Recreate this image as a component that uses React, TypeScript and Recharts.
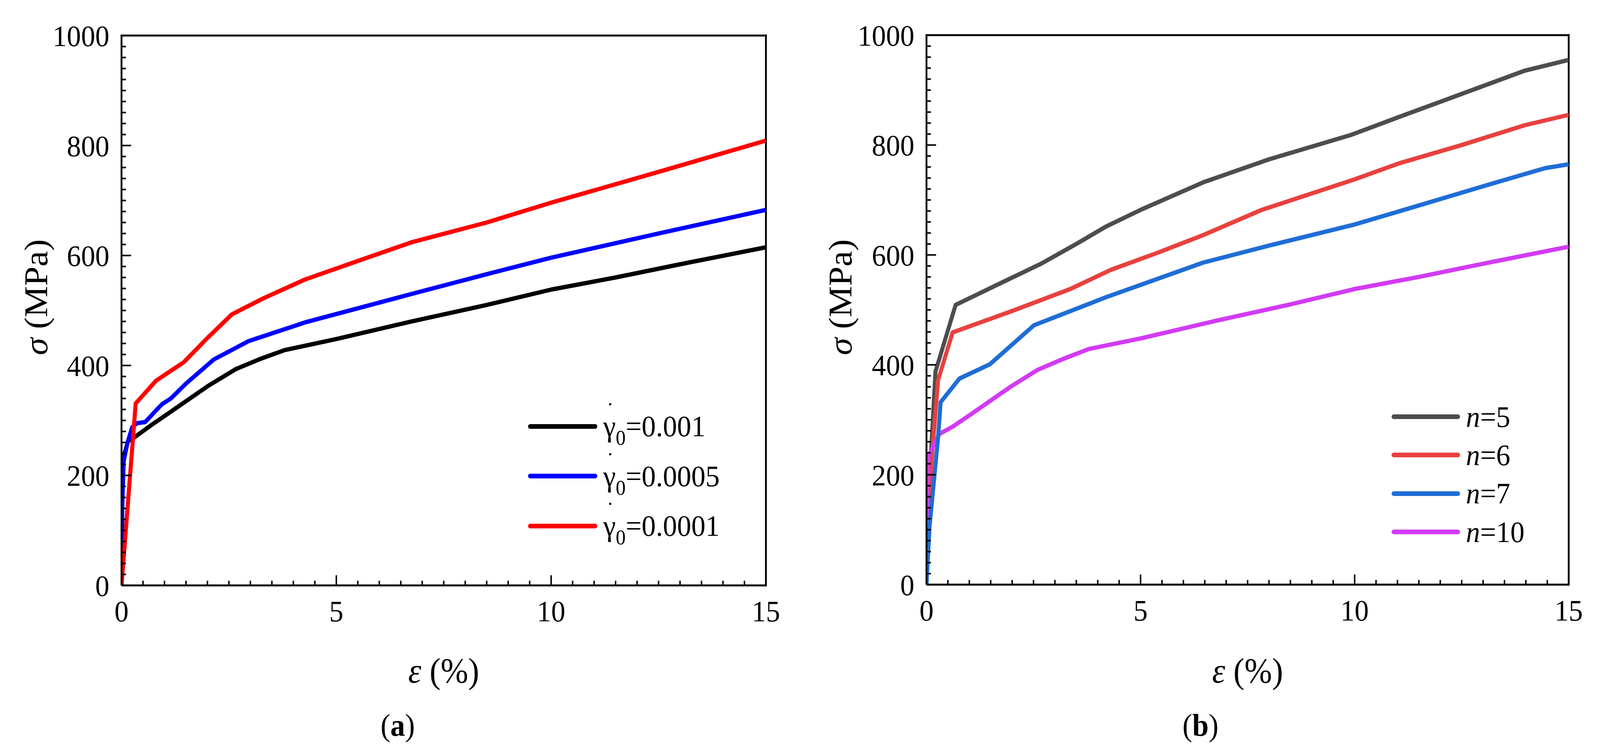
import React from 'react';
import { LineChart, Line, XAxis, YAxis, ReferenceLine, Legend } from 'recharts';

const FONT = '"Liberation Serif", "Times New Roman", serif';

// the reference is 4345 px wide, the browser viewport is narrower: squeeze horizontally to fit
const DESIGN_WIDTH = 4345;
const HEIGHT = 1923;

// ---- axes ----
const xMajorTicks = [0, 5, 10, 15];
const yMajorTicks = [0, 200, 400, 600, 800, 1000];
const X_MINOR_STEP = 0.5;
const Y_MINOR_STEP = 20;
const xTicks = Array.from({ length: 15 / X_MINOR_STEP + 1 }, (_, i) => i * X_MINOR_STEP);
const yTicks = Array.from({ length: 1000 / Y_MINOR_STEP + 1 }, (_, i) => i * Y_MINOR_STEP);

// ---- panel (a): reference strain rate ----
const rateLabels = ['0.001', '0.0005', '0.0001'];
const rateColors = ['#000000', '#0000ff', '#ff0000'];

const rate001Strain = [0, 0.02, 0.05, 0.15, 0.33, 0.7, 1.0, 1.5, 2.0, 2.65, 3.2, 3.8, 5, 6.75, 8.5, 10, 11.5, 13, 15];
const rate001Stress = [0, 165, 235, 262, 271, 292, 308, 335, 362, 393, 411, 428, 448, 480, 510, 538, 560, 584, 615];

const rate0005Strain = [0, 0.02, 0.05, 0.14, 0.25, 0.36, 0.55, 0.8, 0.95, 1.15, 1.5, 2.15, 2.95, 4.3, 6.75, 8.5, 10, 12.5, 15];
const rate0005Stress = [0, 150, 225, 260, 288, 295, 297, 318, 330, 340, 367, 411, 444, 479, 530, 566, 596, 640, 683];

const rate0001Strain = [0, 0.33, 0.8, 1.45, 2.0, 2.57, 3.3, 4.26, 5.5, 6.75, 8.5, 10, 12.5, 15];
const rate0001Stress = [0, 331, 372, 406, 450, 493, 522, 556, 590, 624, 660, 696, 752, 809];

// ---- panel (b): stress exponent n ----
const nLabels = ['5', '6', '7', '10'];
const nColors = ['#4d4d4d', '#e8413f', '#1f6dd6', '#d23bf5'];

const n5Strain = [0, 0.05, 0.21, 0.68, 1.5, 2.7, 3.5, 4.2, 5.0, 6.46, 8.0, 9.9, 11.0, 12.5, 13.96, 15];
const n5Stress = [0, 160, 388, 509, 540, 585, 620, 652, 682, 732, 774, 818, 850, 893, 935, 955];

const n6Strain = [0, 0.04, 0.1, 0.27, 0.61, 2.0, 3.36, 4.31, 5.4, 6.46, 7.83, 9.98, 11.05, 12.5, 13.97, 15];
const n6Stress = [0, 130, 205, 372, 459, 498, 538, 573, 604, 636, 682, 737, 767, 800, 836, 855];

const n7Strain = [0, 0.07, 0.27, 0.33, 0.77, 1.48, 2.51, 4.19, 6.46, 8.0, 9.98, 11.5, 13.0, 14.45, 15];
const n7Stress = [0, 104, 267, 332, 375, 401, 472, 523, 586, 617, 655, 690, 725, 758, 765];

const n10Strain = [0, 0.02, 0.05, 0.3, 0.62, 1.0, 1.48, 2.0, 2.6, 3.2, 3.8, 5, 6.75, 8.5, 10, 11.5, 13, 15];
const n10Stress = [0, 165, 235, 274, 288, 308, 334, 362, 391, 411, 429, 448, 480, 510, 538, 560, 584, 615];

const toPoints = (xs: number[], ys: number[]) => xs.map((x, i) => ({ x, y: ys[i] }));

const panelA = [
  toPoints(rate001Strain, rate001Stress),
  toPoints(rate0005Strain, rate0005Stress),
  toPoints(rate0001Strain, rate0001Stress),
];
const panelB = [
  toPoints(n5Strain, n5Stress),
  toPoints(n6Strain, n6Stress),
  toPoints(n7Strain, n7Stress),
  toPoints(n10Strain, n10Stress),
];

const TICK_FONT = 77;
const TITLE_FONT = 90;

const XTick = (props: any) => {
  const { x, y, payload } = props;
  const major = xMajorTicks.includes(payload.value);
  return (
    <g>
      <line x1={x} y1={y} x2={x} y2={y - (major ? 26 : 12)} stroke="#000" strokeWidth={4} />
      {major && (
        <text x={x} y={y + 92} textAnchor="middle" fontSize={TICK_FONT} fontFamily={FONT} fill="#000">
          {payload.value}
        </text>
      )}
    </g>
  );
};

const YTick = (props: any) => {
  const { x, y, payload } = props;
  const major = yMajorTicks.includes(payload.value);
  return (
    <g>
      <line x1={x} y1={y} x2={x + (major ? 26 : 12)} y2={y} stroke="#000" strokeWidth={4} />
      {major && (
        <text x={x - 33} y={y + 27} textAnchor="end" fontSize={TICK_FONT} fontFamily={FONT} fill="#000">
          {payload.value}
        </text>
      )}
    </g>
  );
};

// gamma-dot: a small bullet sitting just above the gamma
const RateLegend = () => (
  <div style={{ fontFamily: FONT, color: '#000' }}>
    {rateLabels.map((label, i) => (
      <div key={label} style={{ display: 'flex', alignItems: 'center', height: 127.5 }}>
        <div style={{ width: 188, height: 12, borderRadius: 6, background: rateColors[i] }} />
        <div style={{ marginLeft: 16, fontSize: TICK_FONT, lineHeight: 1, whiteSpace: 'nowrap' }}>
          <span style={{ position: 'relative', display: 'inline-block' }}>
            γ
            <span
              style={{
                position: 'absolute',
                left: 2,
                width: '100%',
                textAlign: 'center',
                top: -30,
                fontSize: 26,
                lineHeight: 1,
              }}
            >
              •
            </span>
          </span>
          <span style={{ position: 'relative', top: 22, fontSize: 54 }}>0</span>={label}
        </div>
      </div>
    ))}
  </div>
);

const NLegend = () => (
  <div style={{ fontFamily: FONT, color: '#000' }}>
    {nLabels.map((label, i) => (
      <div key={label} style={{ display: 'flex', alignItems: 'center', height: 98.3 }}>
        <div style={{ width: 186, height: 12, borderRadius: 6, background: nColors[i] }} />
        <div style={{ marginLeft: 16, fontSize: TICK_FONT, lineHeight: 1, whiteSpace: 'nowrap' }}>
          <i>n</i>={label}
        </div>
      </div>
    ))}
  </div>
);

interface PanelProps {
  width: number;
  plotLeft: number;
  plotRight: number;
  plotTop: number;
  plotBottom: number;
  yTitleX: number;
  captionX: number;
  caption: string;
  series: { x: number; y: number }[][];
  colors: string[];
  names: string[];
  order: number[];
  legend: React.ReactNode;
  legendLeft: number;
  legendTop: number;
}

const Panel: React.FC<PanelProps> = (p) => {
  const plotCenterX = (p.plotLeft + p.plotRight) / 2;
  return (
    <div style={{ position: 'relative', width: p.width, height: HEIGHT, flex: 'none' }}>
      <LineChart
        width={p.width}
        height={HEIGHT}
        margin={{ top: p.plotTop, left: p.plotLeft - 100, right: p.width - p.plotRight, bottom: HEIGHT - p.plotBottom - 100 }}
      >
        <XAxis
          type="number"
          dataKey="x"
          domain={[0, 15]}
          ticks={xTicks}
          interval={0}
          height={100}
          tickSize={0}
          tickMargin={0}
          tickLine={false}
          tick={<XTick />}
          axisLine={{ stroke: '#000', strokeWidth: 5 }}
          allowDataOverflow
          label={() => (
            <text x={plotCenterX} y={1748} textAnchor="middle" fontSize={TITLE_FONT} fontFamily={FONT} fill="#000">
              <tspan fontStyle="italic">ε</tspan> (%)
            </text>
          )}
        />
        <YAxis
          type="number"
          domain={[0, 1000]}
          ticks={yTicks}
          interval={0}
          width={100}
          tickSize={0}
          tickMargin={0}
          tickLine={false}
          tick={<YTick />}
          axisLine={{ stroke: '#000', strokeWidth: 5 }}
          allowDataOverflow
          label={() => (
            <text
              x={p.yTitleX}
              y={761}
              textAnchor="middle"
              fontSize={TITLE_FONT}
              fontFamily={FONT}
              fill="#000"
              transform={`rotate(-90 ${p.yTitleX} 761)`}
            >
              <tspan fontStyle="italic">σ</tspan> (MPa)
            </text>
          )}
        />
        <ReferenceLine y={1000} stroke="#000" strokeWidth={5} strokeLinecap="square" />
        <ReferenceLine x={15} stroke="#000" strokeWidth={5} strokeLinecap="square" />
        {p.order.map((i) => (
          <Line
            key={p.names[i]}
            data={p.series[i]}
            dataKey="y"
            name={p.names[i]}
            type="linear"
            stroke={p.colors[i]}
            strokeWidth={11}
            strokeLinejoin="round"
            dot={false}
            activeDot={false}
            isAnimationActive={false}
          />
        ))}
        <Legend
          layout="vertical"
          align="center"
          verticalAlign="middle"
          content={() => p.legend}
          wrapperStyle={{ left: p.legendLeft, top: p.legendTop, width: 'auto' }}
        />
      </LineChart>
      <div
        style={{
          position: 'absolute',
          left: p.captionX - 200,
          width: 400,
          top: 1883 - 66,
          textAlign: 'center',
          fontFamily: FONT,
          fontSize: 80,
          lineHeight: 1,
          color: '#000',
        }}
      >
        (<b>{p.caption}</b>)
      </div>
    </div>
  );
};

export default function App() {
  const viewW = typeof window !== 'undefined' ? window.innerWidth : DESIGN_WIDTH;
  const sx = Math.min(1, viewW / DESIGN_WIDTH);
  return (
    <div
      style={{
        position: 'absolute',
        left: 0,
        top: 0,
        width: DESIGN_WIDTH,
        height: HEIGHT,
        background: '#fff',
        display: 'flex',
        transform: `scale(${sx}, 1)`,
        transformOrigin: '0 0',
      }}
    >
      <Panel
        width={2172}
        plotLeft={330}
        plotRight={2080}
        plotTop={91}
        plotBottom={1499}
        yTitleX={128}
        captionX={1080}
        caption="a"
        series={panelA}
        colors={rateColors}
        names={rateLabels}
        order={[0, 1, 2]}
        legend={<RateLegend />}
        legendLeft={1434}
        legendTop={1028}
      />
      <Panel
        width={2173}
        plotLeft={344}
        plotRight={2088}
        plotTop={90}
        plotBottom={1497}
        yTitleX={140}
        captionX={1088}
        caption="b"
        series={panelB}
        colors={nColors}
        names={nLabels}
        order={[0, 1, 3, 2]}
        legend={<NLegend />}
        legendLeft={1607}
        legendTop={1018}
      />
    </div>
  );
}
